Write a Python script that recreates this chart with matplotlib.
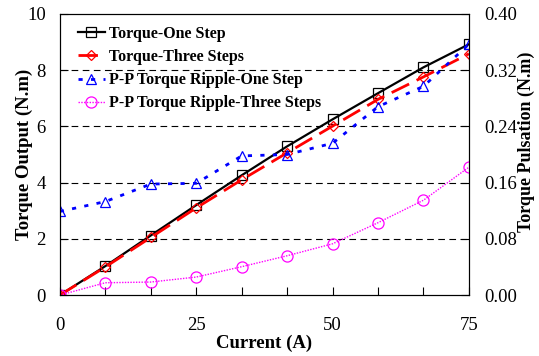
import matplotlib.pyplot as plt
from matplotlib.ticker import MultipleLocator, FuncFormatter

current = [0, 8.33, 16.67, 25, 33.33, 41.67, 50, 58.33, 66.67, 75]
torque_one = [0, 1.03, 2.12, 3.2, 4.26, 5.29, 6.25, 7.18, 8.1, 8.92]
torque_three = [0, 1.0, 2.05, 3.1, 4.1, 5.06, 6.01, 6.96, 7.76, 8.58]
ripple_one = [0.119, 0.133, 0.158, 0.159, 0.198, 0.200, 0.216, 0.268, 0.297, 0.357]
ripple_three = [0.0, 0.0176, 0.0186, 0.0257, 0.0404, 0.056, 0.073, 0.103, 0.135, 0.182]

plt.rcParams['font.family'] = 'Liberation Serif'

fig = plt.figure(figsize=(5.39, 3.56), dpi=100)
ax = fig.add_axes([0.111, 0.171, 0.759, 0.790])
ax2 = ax.twinx()

for y in [2, 4, 6, 8]:
    ax.axhline(y, color='black', lw=0.8, ls=(0, (6, 4)), zorder=0)

l1, = ax.plot(current, torque_one, color='black', lw=1.6, marker='s', ms=7,
              mfc='none', mec='black', mew=0.9, label='Torque-One Step')
l2, = ax.plot(current, torque_three, color='red', lw=2, ls=(0, (7, 3)), marker='D', ms=5,
              mfc='none', mec='red', mew=0.9, label='Torque-Three Steps')
l3, = ax2.plot(current, ripple_one, color='blue', lw=2, ls=(0, (1.5, 3)), marker='^', ms=7,
               mfc='none', mec='blue', mew=0.9, label='P-P Torque Ripple-One Step')
l4, = ax2.plot(current, ripple_three, color='magenta', lw=1, ls=(0, (1, 1)), marker='o', ms=8,
               mfc='none', mec='magenta', mew=0.9, label='P-P Torque Ripple-Three Steps')

ax.set_xlim(0, 75)
ax.set_ylim(0, 10)
ax2.set_ylim(0, 0.40)
ax.xaxis.set_major_locator(MultipleLocator(75 / 9))
ax.xaxis.set_major_formatter(FuncFormatter(
    lambda v, p: '%d' % round(v) if abs(v / 25 - round(v / 25)) < 1e-3 else ''))
ax.yaxis.set_major_locator(MultipleLocator(2))
ax2.yaxis.set_major_locator(MultipleLocator(0.08))
ax2.yaxis.set_major_formatter(FuncFormatter(lambda v, p: '%.2f' % v))

ax.tick_params(axis='both', direction='in', labelsize=13.5, length=6)
ax.tick_params(axis='y', pad=10)
ax.tick_params(axis='x', pad=16)
ax2.tick_params(axis='y', direction='in', labelsize=13.5, length=6, pad=11)

ax.set_xlabel('Current (A)', fontsize=13.5, fontweight='bold', labelpad=0)
ax.set_ylabel('Torque Output (N.m)', fontsize=13.5, fontweight='bold')
ax2.set_ylabel('Torque Pulsation (N.m)', fontsize=13, fontweight='bold')
ax.yaxis.set_label_coords(-0.066, 0.5)
ax2.yaxis.set_label_coords(1.12, 0.545)

leg = ax.legend(handles=[l1, l2, l3, l4], loc='upper left', frameon=False,
                prop={'weight': 'bold', 'size': 11.5}, handlelength=1.7,
                handletextpad=0.25, labelspacing=0.45, borderaxespad=0,
                bbox_to_anchor=(0.028, 0.98))

fig.savefig('out.png', dpi=100)
